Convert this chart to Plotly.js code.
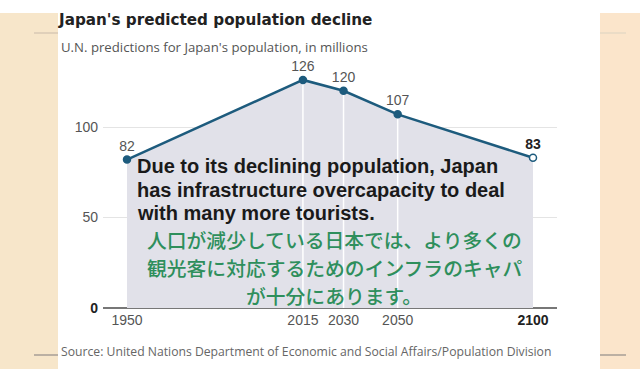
<!DOCTYPE html>
<html>
<head>
<meta charset="utf-8">
<script src="https://cdn.plot.ly/plotly-3.0.1.min.js"></script>
<style>
html,body{margin:0;padding:0;background:#ffffff;}
#chart{width:640px;height:369px;}
</style>
</head>
<body>
<div id="chart"></div>
<script>
// ---- data ----
const years = [1950, 2015, 2030, 2050, 2100];
const population = [82, 126, 120, 107, 83];
const valueLabels = ['82', '126', '120', '107', '<b>83</b>'];
const xTickVals = [1950, 2015, 2030, 2050, 2100];
const xTickText = ['1950', '2015', '2030', '2050', '<b><span style="color:#222">2100</span></b>'];
const yTickVals = [0, 50, 100];
const yTickText = ['<b><span style="color:#222">0</span></b>', '50', '100'];
const titleText = "Japan's predicted population decline";
const subtitleText = "U.N. predictions for Japan's population, in millions";
const sourceText = "Source: United Nations Department of Economic and Social Affairs/Population Division";
const englishLines = ["Due to its declining population, Japan", "has infrastructure overcapacity to deal", "with many more tourists."];
const japaneseLines = ["人口が減少している日本では、より多くの", "観光客に対応するためのインフラのキャパ", "が十分にあります。"];

// ---- geometry helpers (pixel -> paper) ----
const L = 103, R = 83, T = 55, B = 61, W = 640, H = 369;
const PW = W - L - R, PH = H - T - B;
const px = x => (x - L) / PW;
const py = y => (H - B - y) / PH;

const lineColor = '#1d5b7d';
const n = years.length;

// vertical white guide lines at interior points
const vx = [], vy = [];
for (let i = 1; i < n - 1; i++) { vx.push(years[i], years[i], null); vy.push(population[i], 0, null); }

const traces = [
  {
    x: years, y: population, type: 'scatter', mode: 'none',
    fill: 'tozeroy', fillcolor: '#e1e1e9', hoverinfo: 'skip', showlegend: false
  },
  {
    x: vx, y: vy, type: 'scatter', mode: 'lines',
    line: {color: '#ffffff', width: 1.5}, hoverinfo: 'skip', showlegend: false
  },
  {
    x: years, y: population, type: 'scatter', mode: 'lines+markers+text',
    line: {color: lineColor, width: 2.5},
    marker: {size: 7, color: years.map((_, i) => i === n - 1 ? '#ffffff' : lineColor),
             line: {color: lineColor, width: 1.5}},
    text: valueLabels, textposition: 'top center',
    textfont: {family: 'Liberation Sans, Arial', size: 14,
               color: years.map((_, i) => i === n - 1 ? '#222' : '#555')},
    hoverinfo: 'skip', showlegend: false, cliponaxis: false
  }
];

const annotations = [];
annotations.push({text: subtitleText, xref: 'paper', yref: 'paper', x: px(59), y: py(47),
  xanchor: 'left', yanchor: 'middle', showarrow: false,
  font: {family: 'Open Sans, Liberation Sans, Arial', size: 13.2, color: '#555'}});
annotations.push({text: sourceText, xref: 'paper', yref: 'paper', x: px(59), y: py(352),
  xanchor: 'left', yanchor: 'middle', showarrow: false,
  font: {family: 'Open Sans, Liberation Sans, Arial', size: 12.2, color: '#666'}});
englishLines.forEach((t, i) => annotations.push({text: '<b>' + t + '</b>', xref: 'paper', yref: 'paper',
  x: px(136), y: py(166 + i * 23.5), xanchor: 'left', yanchor: 'middle', showarrow: false,
  borderpad: 0, font: {family: 'Liberation Sans, Arial', size: 20, color: '#1a1a1a'}}));
japaneseLines.forEach((t, i) => annotations.push({text: t, xref: 'paper', yref: 'paper',
  x: px(334), y: py(239 + i * 28), xanchor: 'center', yanchor: 'middle', showarrow: false,
  borderpad: 0, font: {family: 'Noto Sans CJK JP', size: 19.8, weight: 500, color: '#2e8f5c'}}));

const shapes = [
  {type: 'rect', xref: 'paper', yref: 'paper', x0: px(0), x1: px(58), y0: py(369), y1: py(13),
   fillcolor: '#f7e6ca', line: {width: 0}, layer: 'below'},
  {type: 'rect', xref: 'paper', yref: 'paper', x0: px(600), x1: px(640), y0: py(369), y1: py(13),
   fillcolor: '#fbe5cb', line: {width: 0}, layer: 'below'},
  {type: 'line', xref: 'paper', yref: 'paper', x0: px(34), x1: px(58), y0: py(33), y1: py(33),
   line: {color: '#d8c9b4', width: 1.5}},
  {type: 'line', xref: 'paper', yref: 'paper', x0: px(34), x1: px(58), y0: py(355), y1: py(355),
   line: {color: '#a79e96', width: 1.5}},
  {type: 'line', xref: 'paper', yref: 'paper', x0: px(600), x1: px(626), y0: py(33), y1: py(33),
   line: {color: '#e6d8c5', width: 1.5}},
  {type: 'line', xref: 'paper', yref: 'paper', x0: px(600), x1: px(626), y0: py(355), y1: py(355),
   line: {color: '#a79e96', width: 1.5}}
];

const layout = {
  width: W, height: H,
  margin: {l: L, r: R, t: T, b: B, pad: 0},
  paper_bgcolor: '#ffffff', plot_bgcolor: 'rgba(0,0,0,0)',
  title: {text: '<b>' + titleText + '</b>', xref: 'container', yref: 'container',
          x: 59 / W, xanchor: 'left', y: 1 - 20 / H, yanchor: 'middle',
          font: {family: 'DejaVu Sans, Liberation Sans, Arial', size: 15.2, color: '#222'}},
  xaxis: {range: [1950 - (127 - L) / 2.707, 2100 + (PW - (533 - L)) / 2.707],
          tickvals: xTickVals, ticktext: xTickText, showgrid: false, zeroline: false,
          showline: false, ticks: '', fixedrange: true, ticklabelstandoff: 2,
          tickfont: {family: 'Liberation Sans, Arial', size: 14, color: '#555'}},
  yaxis: {range: [0, PH / 1.81], tickvals: yTickVals, ticktext: yTickText,
          showgrid: true, gridcolor: '#e4e4e4', gridwidth: 1,
          zeroline: true, zerolinecolor: '#777', zerolinewidth: 1.2,
          showline: false, ticks: '', fixedrange: true, ticklabelstandoff: 4,
          tickfont: {family: 'Liberation Sans, Arial', size: 14, color: '#555'}},
  annotations: annotations,
  shapes: shapes,
  showlegend: false,
  hovermode: false
};

Plotly.newPlot('chart', traces, layout, {displayModeBar: false, staticPlot: true});
</script>
</body>
</html>
